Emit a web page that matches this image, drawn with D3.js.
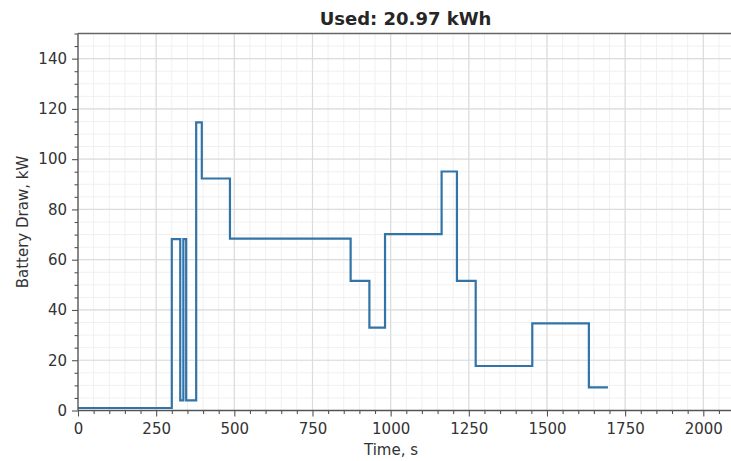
<!DOCTYPE html>
<html><head><meta charset="utf-8">
<script src="https://cdn.jsdelivr.net/npm/d3@7"></script>
<style>
body{margin:0;background:#fff;}
svg{display:block;font-family:"DejaVu Sans",sans-serif;}
</style></head>
<body>
<svg id="c" width="731" height="461"></svg>
<script>
const times = [0, 300, 327, 337, 346, 378, 396, 486, 872, 932, 982, 1163, 1212, 1272, 1453, 1634, 1695];
const power = [1, 68.2, 4, 68.2, 4, 114.6, 92.3, 68.4, 51.6, 33.0, 70.2, 95.1, 51.6, 17.7, 34.7, 9.2, 9.2];
const xTicks = [0, 250, 500, 750, 1000, 1250, 1500, 1750, 2000];
const yTicks = [0, 20, 40, 60, 80, 100, 120, 140];
const title = "Used: 20.97 kWh";
const xLabel = "Time, s";
const yLabel = "Battery Draw, kW";

const svg = d3.select("#c");
const L = 78, T = 33.5, B = 410.5;
const pxPerS = (703.3 - 78) / 2000;
const xMax = 2200;
const x = d3.scaleLinear().domain([0, xMax]).range([L, L + xMax * pxPerS]);
const y = d3.scaleLinear().domain([0, 150]).range([B, T]);
const R = x(xMax);

const g = svg.append("g");
// minor grid
const xMinor = d3.range(0, xMax + 1, 50);
const yMinor = d3.range(0, 151, 5);
g.selectAll(".mgx").data(xMinor).join("line")
  .attr("x1", d => x(d)).attr("x2", d => x(d)).attr("y1", T).attr("y2", B)
  .attr("stroke", "#f0f0f0").attr("stroke-width", 1);
g.selectAll(".mgy").data(yMinor).join("line")
  .attr("y1", d => y(d)).attr("y2", d => y(d)).attr("x1", L).attr("x2", R)
  .attr("stroke", "#f0f0f0").attr("stroke-width", 1);
// major grid
g.selectAll(".Mgx").data(d3.range(0, xMax + 1, 250)).join("line")
  .attr("x1", d => x(d)).attr("x2", d => x(d)).attr("y1", T).attr("y2", B)
  .attr("stroke", "#dcdcdc").attr("stroke-width", 1.2);
g.selectAll(".Mgy").data(d3.range(0, 151, 20)).join("line")
  .attr("y1", d => y(d)).attr("y2", d => y(d)).attr("x1", L).attr("x2", R)
  .attr("stroke", "#dcdcdc").attr("stroke-width", 1.2);

// line
const pts = times.map((t, i) => [t, power[i]]);
svg.append("path").datum(pts)
  .attr("fill", "none").attr("stroke", "#3274a8").attr("stroke-width", 2.2)
  .attr("stroke-linejoin", "miter")
  .attr("d", d3.line().x(d => x(d[0])).y(d => y(d[1])).curve(d3.curveStepAfter));

// axes
const xAxis = d3.axisBottom(x).tickValues(xTicks).tickSize(6).tickPadding(7).tickFormat(d3.format("d"));
const xAxisMinor = d3.axisBottom(x).tickValues(xMinor.filter(v => v % 250 !== 0)).tickSize(3.5).tickFormat("");
const yAxis = d3.axisLeft(y).tickValues(yTicks).tickSize(6).tickPadding(5).tickFormat(d3.format("d"));
const yAxisMinor = d3.axisLeft(y).tickValues(yMinor.filter(v => v % 20 !== 0)).tickSize(3.5).tickFormat("");

function style(sel) {
  sel.select(".domain").remove();
  sel.selectAll("line").attr("stroke", "#555").attr("stroke-width", 1.1);
  sel.selectAll("text").attr("fill", "#333").style("font-size", "15px").style("font-family", "DejaVu Sans");
}
svg.append("g").attr("transform", `translate(0,${B})`).call(xAxis).call(style);
svg.append("g").attr("transform", `translate(0,${B})`).call(xAxisMinor).call(style);
svg.append("g").attr("transform", `translate(${L},0)`).call(yAxis).call(style);
svg.append("g").attr("transform", `translate(${L},0)`).call(yAxisMinor).call(style);

// spines
svg.append("line").attr("x1", L).attr("x2", L).attr("y1", T).attr("y2", B).attr("stroke", "#555").attr("stroke-width", 1.3);
svg.append("line").attr("x1", L).attr("x2", R).attr("y1", B).attr("y2", B).attr("stroke", "#555").attr("stroke-width", 1.3);
svg.append("line").attr("x1", L).attr("x2", R).attr("y1", T).attr("y2", T).attr("stroke", "#666").attr("stroke-width", 1.6);

// labels
svg.append("text").attr("x", 405.5).attr("y", 25).attr("text-anchor", "middle")
  .style("font-size", "18px").style("font-weight", "bold").attr("fill", "#262626").text(title);
svg.append("text").attr("x", 391).attr("y", 455).attr("text-anchor", "middle")
  .style("font-size", "15px").attr("fill", "#333").text(xLabel);
svg.append("text").attr("transform", `translate(28,${(T + B) / 2}) rotate(-90)`).attr("text-anchor", "middle")
  .style("font-size", "15px").attr("fill", "#333").text(yLabel);
</script>
</body></html>
